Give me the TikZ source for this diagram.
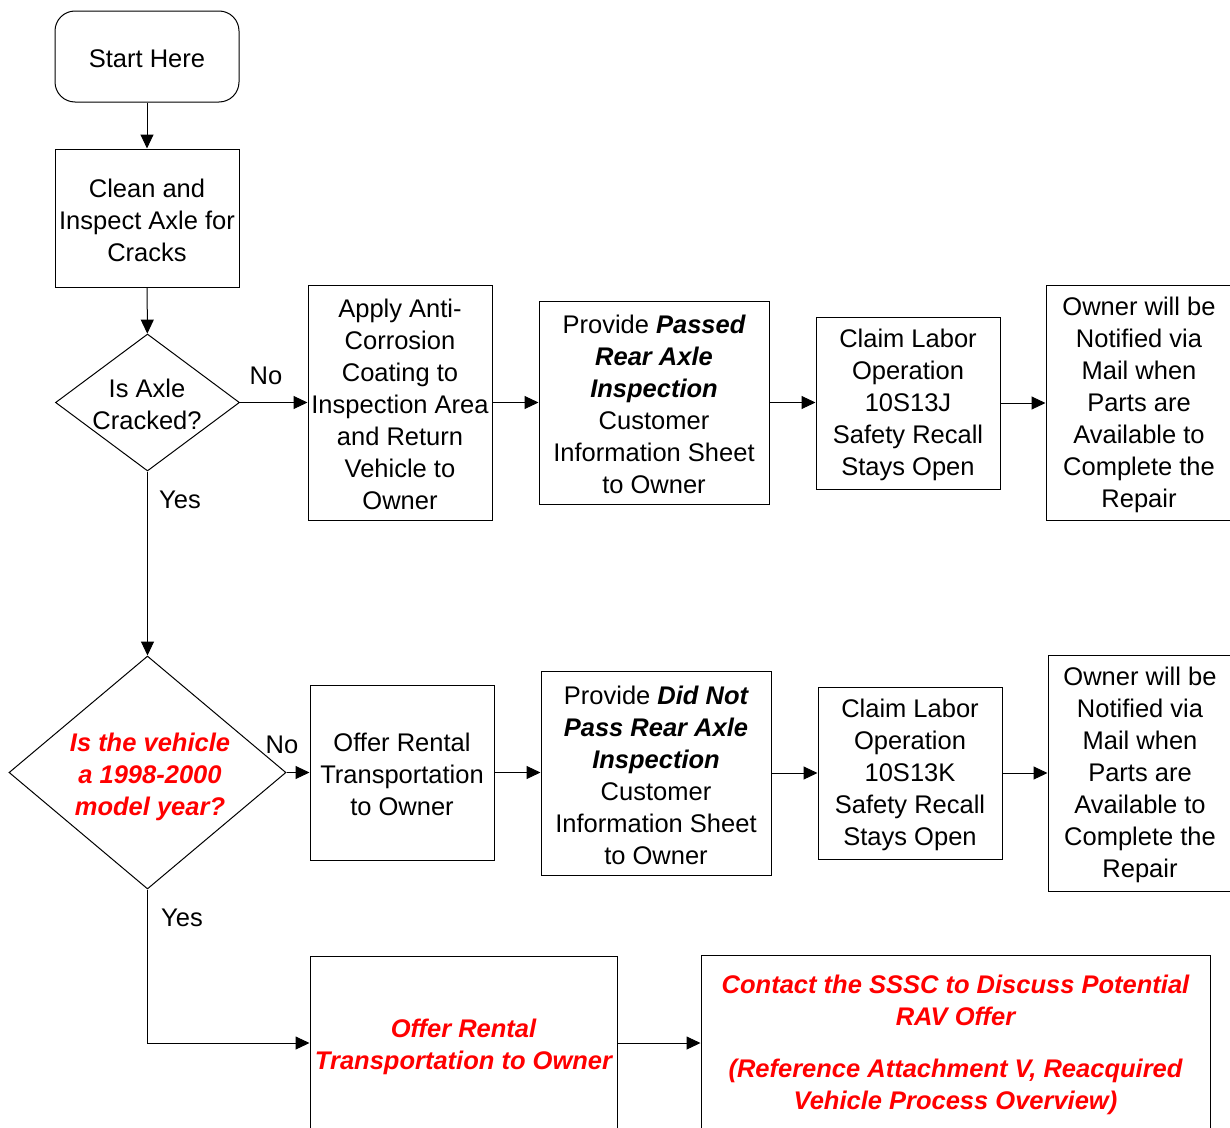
\documentclass[tikz,border=0pt]{standalone}
\usepackage{fontspec}
\setmainfont{Liberation Sans}
\usetikzlibrary{arrows.meta,shapes.geometric}
\definecolor{redtxt}{RGB}{255,0,0}
\newcommand{\bi}[1]{{\bfseries\itshape #1}}
\newcommand{\ts}{\rule{0pt}{23pt}}
\newcommand{\tts}{\rule{0pt}{27pt}}
\begin{document}
\begin{tikzpicture}[x=1pt,y=-1pt,
  base/.style={font=\fontsize{25.5}{32}\selectfont, align=center, inner sep=0pt},
  box/.style={base, draw, line width=1pt},
  redt/.style={text=redtxt, font=\fontsize{25.5}{32}\selectfont\bfseries\itshape},
  dia/.style={diamond, draw, line width=1pt, inner sep=0pt},
  arr/.style={line width=1pt, -{Triangle[length=14pt,width=13pt]}},
  lbl/.style={font=\fontsize{25.5}{32}\selectfont, inner sep=0pt}]
\useasboundingbox (0,0) rectangle (1230,1127);
\fill[white] (0,0) rectangle (1230,1127);

% Row 0
\node[box, rounded corners=20pt, minimum width=184pt, minimum height=91pt] (start) at (147,56.5) {\rule{0pt}{22.5pt}Start Here};
\node[box, minimum width=184pt, minimum height=138pt] (clean) at (147,218) {\ts Clean and\\Inspect Axle for\\Cracks};
\node[dia, minimum width=184pt, minimum height=137pt] (d1) at (147.5,402.5) {};
\node[base] (d1t) at (147,404) {Is Axle\\Cracked?};

% Row 1
\node[box, minimum width=184pt, minimum height=235pt] (apply) at (400,402.5) {\ts Apply Anti-\\Corrosion\\Coating to\\Inspection Area\\and Return\\Vehicle to\\Owner};
\node[box, minimum width=230pt, minimum height=203pt] (passed) at (654,402.5) {\ts Provide \bi{Passed}\\\bi{Rear Axle}\\\bi{Inspection}\\Customer\\Information Sheet\\to Owner};
\node[box, minimum width=184pt, minimum height=172pt] (claim1) at (908,403) {\ts Claim Labor\\Operation\\10S13J\\Safety Recall\\Stays Open};
\node[box, minimum width=186pt, minimum height=235pt] (owner1) at (1139,402.5) {\ts Owner will be\\Notified via\\Mail when\\Parts are\\Available to\\Complete the\\Repair};

% Row 2
\node[dia, minimum width=277pt, minimum height=233pt] (d2) at (147.5,772.5) {};
\node[base, redt] (d2t) at (150,777) {Is the vehicle\\a 1998-2000\\model year?};
\node[box, minimum width=184pt, minimum height=175pt] (offer) at (402,772.5) {\ts Offer Rental\\Transportation\\to Owner};
\node[box, minimum width=230pt, minimum height=204pt] (didnot) at (656,773) {\ts Provide \bi{Did Not}\\\bi{Pass Rear Axle}\\\bi{Inspection}\\Customer\\Information Sheet\\to Owner};
\node[box, minimum width=184pt, minimum height=172pt] (claim2) at (910,773) {\ts Claim Labor\\Operation\\10S13K\\Safety Recall\\Stays Open};
\node[box, minimum width=184pt, minimum height=236pt] (owner2) at (1140,773) {\ts Owner will be\\Notified via\\Mail when\\Parts are\\Available to\\Complete the\\Repair};

% Row 3
\node[box, redt, minimum width=307pt, minimum height=174pt] (rental) at (463.5,1043) {\tts Offer Rental\\Transportation to Owner};
\node[box, redt, minimum width=509pt, minimum height=176pt] (contact) at (955.5,1043) {\ts Contact the SSSC to Discuss Potential\\RAV Offer\\[20pt](Reference Attachment V, Reacquired\\Vehicle Process Overview)};

% Connectors
\draw[arr] (start) -- (clean);
\draw[arr] (clean) -- (d1);
\draw[arr] (d1.east) -- (apply.west);
\draw[arr] (apply.east) -- (apply.east -| passed.west);
\draw[arr] (passed.east) -- (passed.east -| claim1.west);
\draw[arr] (claim1.east) -- (claim1.east -| owner1.west);
\draw[arr] (d1.south) -- (d2.north);
\draw[arr] (d2.east) -- (offer.west);
\draw[arr] (offer.east) -- (offer.east -| didnot.west);
\draw[arr] (didnot.east) -- (didnot.east -| claim2.west);
\draw[arr] (claim2.east) -- (claim2.east -| owner2.west);
\draw[arr] (d2.south) |- (rental.west);
\draw[arr] (rental.east) -- (contact.west);

% Labels
\node[lbl] (no1) at (266,376) {No};
\node[lbl] (yes1) at (180,500) {Yes};
\node[lbl] (no2) at (282,745) {No};
\node[lbl] (yes2) at (182,918) {Yes};
\end{tikzpicture}
\end{document}
